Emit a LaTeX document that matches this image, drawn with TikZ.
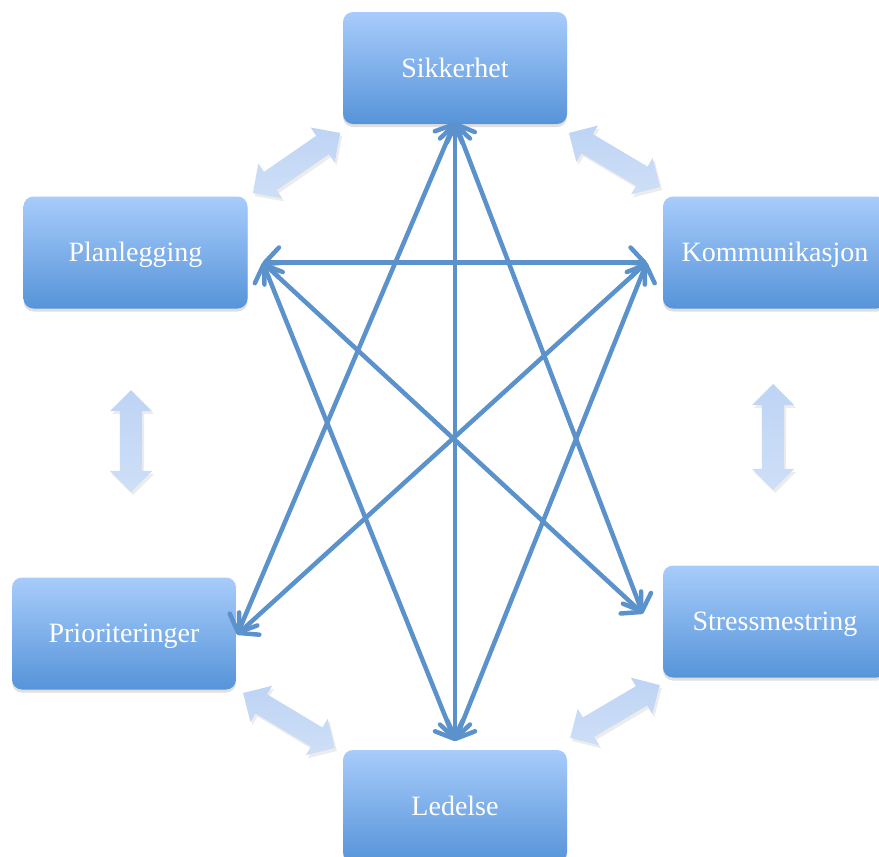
\documentclass[tikz,border=0pt]{standalone}
\usepackage{fontspec}
\setmainfont{Liberation Serif}
\usetikzlibrary{arrows.meta,shapes.arrows,shadows,calc}
\definecolor{boxtop}{RGB}{168,204,251}
\definecolor{boxbot}{RGB}{86,148,217}
\definecolor{linkblue}{RGB}{91,146,203}
\definecolor{blocktop}{RGB}{190,212,245}
\definecolor{blockbot}{RGB}{206,223,246}
\tikzset{
  topic/.style={rectangle, rounded corners=10pt, minimum width=224pt, minimum height=112pt,
    top color=boxtop, bottom color=boxbot, text=white, inner sep=0pt,
    text height=18pt, text depth=0pt,
    font=\fontsize{28}{33}\selectfont,
    drop shadow={shadow xshift=0pt, shadow yshift=-3pt, opacity=0.25}},
  barbtip/.tip={Straight Barb[length=14pt,width=30pt,line width=4.5pt,round]},
  link/.style={draw=linkblue, line width=4.5pt, line cap=round, barbtip-barbtip},
  blockarrow/.style={double arrow, double arrow head extend=10pt, double arrow tip angle=90,
    minimum height=#1, inner xsep=0pt, inner ysep=11pt, text height=0pt, text depth=0pt, text width=0pt,
    top color=blocktop, bottom color=blockbot, draw=none,
    drop shadow={shadow xshift=2pt, shadow yshift=-3pt, opacity=0.15}}
}
\begin{document}
\begin{tikzpicture}[x=1pt,y=-1pt]
\useasboundingbox (0,0) rectangle (879,857);

% topic boxes
\node[topic] (sik) at (455,68) {Sikkerhet};
\node[topic] (plan) at (135.5,252.5) {Planlegging};
\node[topic] (kom) at (775,252.5) {Kommunikasjon};
\node[topic] (pri) at (124,633.5) {Prioriteringer};
\node[topic] (str) at (775,621.5) {Stressmestring};
\node[topic] (led) at (455,806) {Ledelse};

% connector ends on the box edges
\coordinate (sikE) at ($(sik.south)+(0,-2)$);
\coordinate (planE) at ($(plan.east)+(15,10)$);
\coordinate (komE) at ($(kom.west)+(-16,10)$);
\coordinate (priE) at ($(pri.east)+(1,1)$);
\coordinate (strE) at ($(str.west)+(-20,-8)$);
\coordinate (ledE) at ($(led.north)+(0,-9)$);

% links between all topics
\draw[link] (sikE) -- (ledE);
\draw[link] (planE) -- (komE);
\draw[link] (sikE) -- (priE);
\draw[link] (sikE) -- (strE);
\draw[link] (planE) -- (strE);
\draw[link] (planE) -- (ledE);
\draw[link] (komE) -- (priE);
\draw[link] (komE) -- (ledE);

% block arrows between neighbouring topics
\node[blockarrow=106pt, rotate=34.6] (ba1) at (296.5,163) {};
\node[blockarrow=106pt, rotate=-30.7] (ba2) at (614.5,160) {};
\node[blockarrow=102pt, rotate=90] (ba3) at (131,441) {};
\node[blockarrow=106pt, rotate=90] (ba4) at (773,437) {};
\node[blockarrow=107pt, rotate=-30.9] (ba5) at (289,720.5) {};
\node[blockarrow=104pt, rotate=30.5] (ba6) at (615,711.5) {};
\end{tikzpicture}
\end{document}
